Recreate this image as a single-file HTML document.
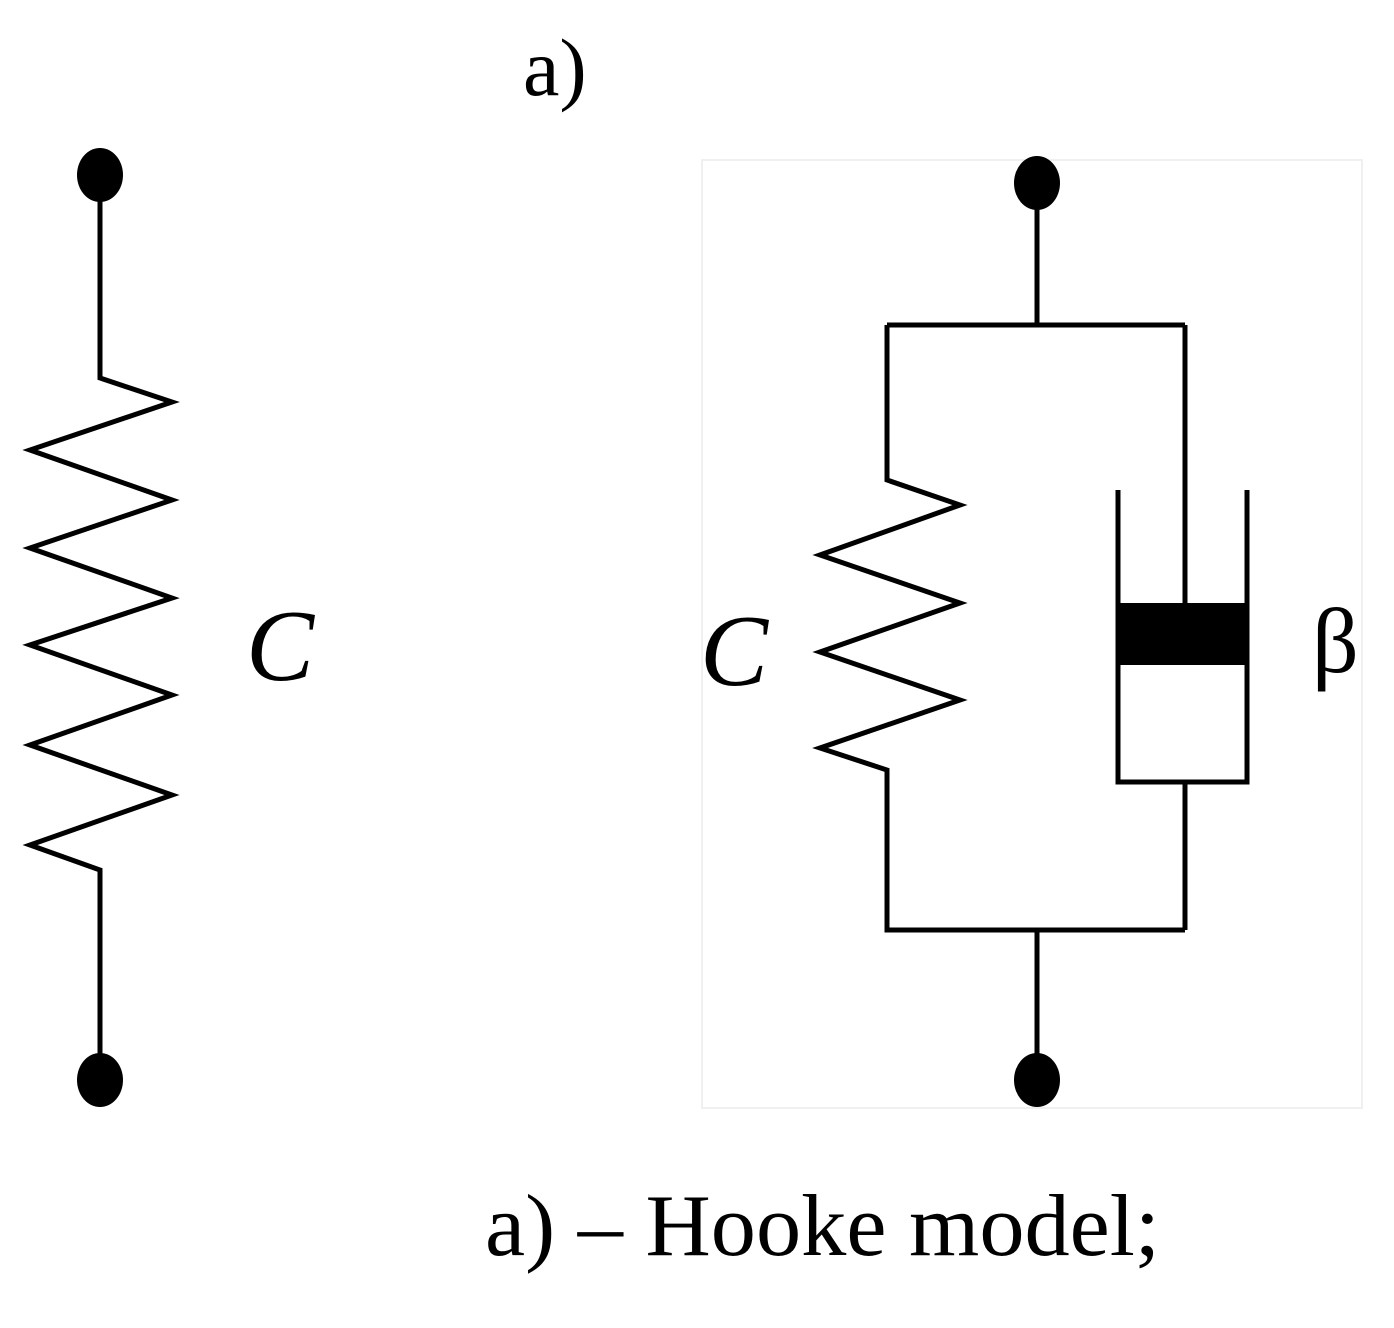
<!DOCTYPE html>
<html><head><meta charset="utf-8"><style>
html,body{margin:0;padding:0;background:#fff;}
svg{display:block}
</style></head><body>
<svg width="1394" height="1328" viewBox="0 0 1394 1328" xmlns="http://www.w3.org/2000/svg">
<rect x="702" y="160" width="660" height="948" fill="none" stroke="#f0f0f0" stroke-width="2"/>
<g fill="none" stroke="#000" stroke-width="5" stroke-linejoin="miter">
<polyline points="100,175 100,378 172,402 30,450 172,500 30,548 172,598 30,645 172,695 30,745 172,795 30,845 100,870 100,1078"/>
<polyline points="1037,183 1037,325"/>
<polyline points="887,325 1185,325"/>
<polyline points="887,325 887,480 960,505 820,555 960,603 820,652 960,700 820,748 887,770 887,930 1185,930"/>
<polyline points="1185,325 1185,605"/>
<polyline points="1118,490 1118,782 1247,782 1247,490"/>
<polyline points="1185,782 1185,930"/>
<polyline points="1037,930 1037,1078"/>
</g>
<rect x="1118" y="603" width="129" height="62" fill="#000"/>
<ellipse cx="100" cy="175" rx="23" ry="27" fill="#000"/>
<ellipse cx="100" cy="1080" rx="23" ry="27" fill="#000"/>
<ellipse cx="1037" cy="183" rx="23" ry="27" fill="#000"/>
<ellipse cx="1037" cy="1080" rx="23" ry="27" fill="#000"/>
<g font-family="'Liberation Serif',serif" fill="#000">
<text x="246" y="680" font-size="102" font-style="italic">C</text>
<text x="700" y="685" font-size="102" font-style="italic">C</text>
<text x="1312" y="672" font-size="92">β</text>
<text x="523" y="95" font-size="82">a)</text>
<text x="485" y="1255" font-size="88" textLength="675" lengthAdjust="spacingAndGlyphs">a) – Hooke model;</text>
</g>
</svg>
</body></html>
